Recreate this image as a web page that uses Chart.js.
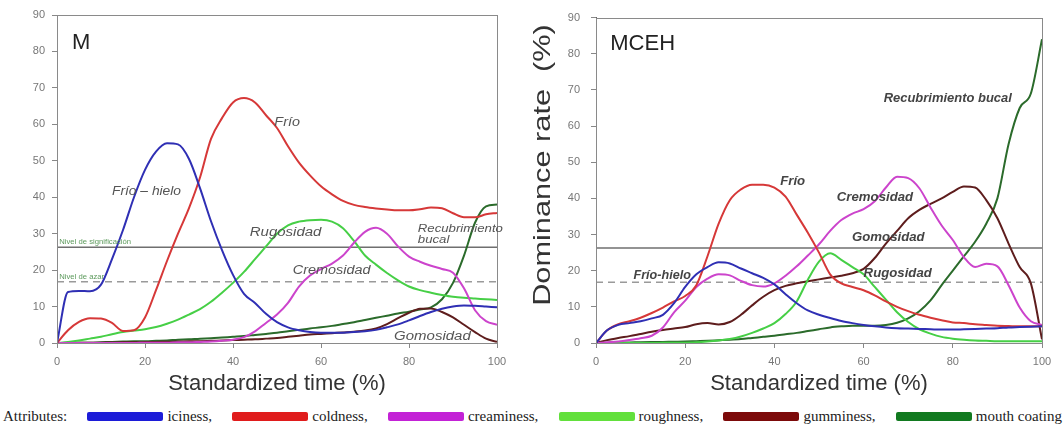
<!DOCTYPE html>
<html>
<head>
<meta charset="utf-8">
<title>Dominance rate | M vs MCEH</title>
<script src="https://cdn.jsdelivr.net/npm/chart.js@4.4.1/dist/chart.umd.min.js"></script>
<style>
  html, body { margin: 0; padding: 0; background: #fff; }
  #wrap { position: relative; width: 1064px; height: 430px; overflow: hidden; }
  #chartM { position: absolute; left: 0; top: 0; }
  #chartMCEH { position: absolute; left: 530px; top: 0; }
  #legend {
    position: absolute; left: 3px; top: 405px; width: 1059px; height: 22px;
    display: flex; align-items: center; justify-content: space-between;
    font: 15px 'Liberation Serif', 'Times New Roman', serif; color: #222; white-space: nowrap;
  }
  .lg-item { display: flex; align-items: center; }
  .lg-bar { width: 76px; height: 9px; margin-right: 4px; border-radius: 2px; }
</style>
</head>
<body>
<div id="wrap">
  <canvas id="chartM" width="530" height="400"></canvas>
  <canvas id="chartMCEH" width="534" height="400"></canvas>
  <div id="legend"></div>
</div>
<script>
/* ── Data ───────────────────────────────────────────────────── */
var X_GRID = [0, 2.5, 5, 7.5, 10, 12.5, 15, 17.5, 20, 22.5, 25, 27.5, 30, 32.5, 35, 37.5, 40,
  42.5, 45, 47.5, 50, 52.5, 55, 57.5, 60, 62.5, 65, 67.5, 70, 72.5, 75, 77.5, 80, 82.5, 85,
  87.5, 90, 92.5, 95, 97.5, 100];
var X_TICKS = [0, 20, 40, 60, 80, 100];
var Y_TICKS = [0, 10, 20, 30, 40, 50, 60, 70, 80, 90];
var X_TITLE = 'Standardized time (%)';
var Y_TITLE = 'Dominance rate  (%)';

var ATTRIBUTES = ['iciness,', 'coldness,', 'creaminess,', 'roughness,', 'gumminess,', 'mouth coating'];

var SIGNIFICANCE_LEVEL = 26.3;
var CHANCE_LEVEL = 16.8;

/* panel M */
var M_ICINESS = [0, 14, 14.3, 14.2, 16, 23, 31, 40, 47.5, 52.5, 54.8, 54.5, 50.5, 42.5, 33.4, 25.5, 18.7,
  13.5, 11, 8, 5.7, 4.3, 3.5, 3, 2.8, 2.8, 2.8, 3, 3.2, 3.6, 4.3, 5.1, 6.2, 7.4, 8.5, 9.4, 10, 10.3, 10.2, 10, 9.8];
var M_COLDNESS = [0, 3.5, 5.8, 6.8, 6.7, 5.5, 3.3, 3.5, 7, 14.5, 22.5, 30, 37, 45.4, 56, 61.7, 66,
  67.2, 66, 62.5, 59, 54, 49.5, 46, 43, 40.8, 39, 37.9, 37.3, 36.9, 36.6, 36.4, 36.4, 36.7, 37.2, 37, 35.6, 34.5, 34.5, 35.3, 35.7];
var M_CREAMINESS = [0, 0, 0, 0, 0, 0, 0, 0, 0.1, 0.1, 0.1, 0.2, 0.2, 0.3, 0.4, 0.6, 0.9,
  1.6, 3.2, 5.5, 7.8, 11, 15.5, 18.5, 20.3, 21.8, 24, 27.5, 30.5, 31.6, 30, 26.5, 23.7, 22.3, 21.2, 20.3, 19.3, 15, 9, 6, 5];
var M_ROUGHNESS = [0, 0.3, 0.7, 1.2, 1.7, 2.4, 3, 3.4, 3.8, 4.4, 5.3, 6.4, 7.8, 9.3, 11.3, 13.8, 16.5,
  19.5, 23, 26.5, 30, 32.3, 33.3, 33.7, 33.8, 33.3, 31.5, 28, 24, 21.5, 19.2, 17.2, 15.5, 14.5, 13.8, 13.2, 12.7, 12.4, 12.2, 12, 11.8];
var M_GUMMINESS = [0, 0, 0.05, 0.1, 0.1, 0.15, 0.2, 0.2, 0.25, 0.3, 0.35, 0.4, 0.45, 0.5, 0.6, 0.7, 0.8,
  0.9, 1, 1.2, 1.4, 1.7, 2, 2.3, 2.5, 2.7, 2.9, 3.1, 3.4, 4, 5.2, 6.8, 8.3, 9.4, 9.5, 8.5, 7, 5, 3, 1.2, 0.3];
var M_MOUTH_COATING = [0, 0, 0.1, 0.1, 0.2, 0.3, 0.4, 0.5, 0.5, 0.6, 0.7, 0.9, 1, 1.2, 1.3, 1.5, 1.7,
  1.9, 2.2, 2.5, 2.8, 3.2, 3.6, 4, 4.3, 4.7, 5.2, 5.7, 6.3, 6.9, 7.5, 8.1, 8.6, 9.2, 9.8, 12, 16.5, 24, 33, 37.5, 38];

/* panel MCEH */
var MCEH_ICINESS = [0, 3.5, 5, 5.5, 6, 6.8, 7.8, 11, 15.5, 19, 21, 22.3, 22, 20.6, 19.3, 18, 16.2,
  13.5, 11, 9, 7.8, 6.9, 6.1, 5.5, 5, 4.6, 4.3, 4.1, 4, 3.9, 3.8, 3.7, 3.7, 3.8, 3.9, 4, 4.1, 4.3, 4.4, 4.5, 4.6];
var MCEH_COLDNESS = [0, 3.5, 5.2, 6, 7, 8.3, 9.8, 11.5, 13, 16, 24, 33, 39.5, 42.5, 43.8, 43.8, 43,
  40.5, 35.5, 30.5, 25, 19, 16.5, 15.5, 14.6, 13.2, 11.5, 10, 8.8, 7.8, 7, 6.3, 5.7, 5.5, 5.2, 5, 4.8, 4.7, 4.6, 4.6, 4.6];
var MCEH_CREAMINESS = [0, 0.2, 0.4, 0.8, 1.3, 2, 4.3, 8.5, 11.7, 15.5, 17.8, 19, 18.7, 17.2, 16, 15.6, 16.5,
  18.6, 21.2, 24.2, 27.3, 31, 34, 35.8, 37, 39.2, 43, 46, 45.6, 42.8, 37.5, 32.5, 28.5, 23.7, 21, 21.9, 21.2, 16, 9.8, 6, 5];
var MCEH_ROUGHNESS = [0, 0, 0, 0, 0, 0, 0.05, 0.1, 0.1, 0.2, 0.4, 0.7, 1.1, 1.8, 2.8, 4, 5.5,
  8, 11.5, 17.5, 22.5, 24.8, 23, 21, 19, 15.5, 12, 8.5, 5.8, 3.8, 2.6, 1.7, 1.2, 0.9, 0.7, 0.6, 0.5, 0.5, 0.5, 0.5, 0.5];
var MCEH_GUMMINESS = [0, 0.8, 1.4, 1.9, 2.5, 3.1, 3.6, 4, 4.4, 5.2, 5.5, 5.1, 5.8, 7.8, 10.4, 12.8, 14.6,
  15.8, 16.5, 17.1, 17.6, 18.1, 18.6, 19.3, 20.5, 23.5, 27.5, 31, 34.5, 36.8, 38.5, 40, 41.8, 43.3, 43, 39.5, 34.5, 27.5, 21, 16.5, 1];
var MCEH_MOUTH_COATING = [0, 0.05, 0.1, 0.15, 0.2, 0.25, 0.3, 0.35, 0.4, 0.5, 0.6, 0.75, 0.9, 1.1, 1.4, 1.7, 2,
  2.4, 2.8, 3.3, 3.8, 4.3, 4.6, 4.8, 4.8, 4.8, 5, 5.6, 6.8, 8.8, 11.8, 16, 20, 24, 28, 33, 40, 55, 65, 69, 84];

(function () {
  'use strict';

  var LINE_COLORS = ['#2f2fb4', '#d63838', '#cc44cc', '#46cf46', '#5e1d1d', '#2b6b2b'];
  var BAR_COLORS = ['#1c1cd8', '#e01c1c', '#c322d6', '#62e03c', '#7c0a0a', '#127a20'];

  /* ── Plugins ─────────────────────────────────────────────── */
  var framePlugin = {
    id: 'frame',
    afterDatasetsDraw: function (chart) {
      var a = chart.chartArea, ctx = chart.ctx;
      ctx.save();
      ctx.strokeStyle = '#8a8a8a';
      ctx.lineWidth = 1;
      ctx.strokeRect(Math.round(a.left) + 0.5, Math.round(a.top) + 0.5,
        Math.round(a.right - a.left), Math.round(a.bottom - a.top));
      ctx.restore();
    }
  };

  var notesPlugin = {
    id: 'notes',
    afterDatasetsDraw: function (chart, args, opts) {
      var ctx = chart.ctx, xs = chart.scales.x, ys = chart.scales.y;
      (opts.items || []).forEach(function (n) {
        ctx.save();
        ctx.font = n.font;
        ctx.fillStyle = n.color;
        ctx.textBaseline = 'middle';
        ctx.textAlign = 'left';
        ctx.translate(xs.getPixelForValue(n.x), ys.getPixelForValue(n.y));
        ctx.scale(n.stretch || 1, 1);
        ctx.fillText(n.text, 0, 0);
        ctx.restore();
      });
    }
  };

  var yTitlePlugin = {
    id: 'yTitle',
    afterDraw: function (chart, args, opts) {
      if (!opts.text) return;
      var ctx = chart.ctx;
      ctx.save();
      ctx.font = opts.font;
      ctx.fillStyle = opts.color;
      ctx.textAlign = 'center';
      ctx.textBaseline = 'middle';
      ctx.translate(opts.x, opts.y);
      ctx.rotate(-Math.PI / 2);
      ctx.scale(opts.stretch || 1, 1);
      ctx.fillText(opts.text, 0, 0);
      ctx.restore();
    }
  };

  /* ── Helpers ─────────────────────────────────────────────── */
  function points(vals) {
    return X_GRID.map(function (x, i) { return { x: x, y: vals[i] }; });
  }

  function levelLine(y, color, dash) {
    return {
      label: 'level',
      data: [{ x: X_TICKS[0], y: y }, { x: X_TICKS[X_TICKS.length - 1], y: y }],
      borderColor: color,
      borderWidth: 1.5,
      borderDash: dash,
      pointRadius: 0,
      fill: false
    };
  }

  function buildDatasets(series) {
    var sets = series.map(function (vals, i) {
      return {
        label: ATTRIBUTES[i],
        data: points(vals),
        borderColor: LINE_COLORS[i],
        borderWidth: 2,
        pointRadius: 0,
        fill: false,
        cubicInterpolationMode: 'monotone'
      };
    });
    sets.push(levelLine(SIGNIFICANCE_LEVEL, '#6f6f6f', []));
    sets.push(levelLine(CHANCE_LEVEL, '#9a9a9a', [7, 5]));
    return sets;
  }

  function scales(yWidth, yPad) {
    return {
      x: {
        type: 'linear', min: 0, max: 100,
        afterBuildTicks: function (s) { s.ticks = X_TICKS.map(function (v) { return { value: v }; }); },
        afterFit: function (s) { s.height = 57; },
        ticks: { color: '#777', font: { size: 11, family: 'Arial' }, padding: 7, maxRotation: 0 },
        grid: { drawOnChartArea: false, tickLength: 5, color: '#888' },
        border: { color: '#666' },
        title: {
          display: true, text: X_TITLE, color: '#333',
          font: { size: 22, family: "'Liberation Sans', Arial" }, padding: { top: 0, bottom: 3 }
        }
      },
      y: {
        min: 0, max: 90,
        afterBuildTicks: function (s) { s.ticks = Y_TICKS.map(function (v) { return { value: v }; }); },
        afterFit: function (s) { s.width = yWidth; },
        ticks: { color: '#777', font: { size: 11, family: 'Arial' }, padding: yPad },
        grid: { drawOnChartArea: false, tickLength: 5, color: '#888' },
        border: { color: '#666' }
      }
    };
  }

  function makeChart(id, series, padRight, yWidth, yPad, notes, yTitle) {
    return new Chart(document.getElementById(id), {
      type: 'line',
      data: { datasets: buildDatasets(series) },
      options: {
        responsive: false,
        animation: false,
        devicePixelRatio: 1,
        layout: { padding: { top: 15, right: padRight, left: 0, bottom: 0 } },
        scales: scales(yWidth, yPad),
        plugins: {
          legend: { display: false },
          tooltip: { enabled: false },
          notes: { items: notes },
          yTitle: yTitle || {}
        }
      },
      plugins: [framePlugin, notesPlugin, yTitlePlugin]
    });
  }

  /* ── Text labels inside the plots ────────────────────────── */
  var L_FONT = 'italic 12px Arial';
  var L_COL = '#555';
  var notesM = [
    { text: 'M', x: 3.4, y: 82.4, font: '22px Arial', color: '#222' },
    { text: 'Frío', x: 49.4, y: 60.4, font: L_FONT, color: L_COL, stretch: 1.2 },
    { text: 'Frío – hielo', x: 12.5, y: 41.5, font: L_FONT, color: L_COL, stretch: 1.15 },
    { text: 'Rugosidad', x: 43.8, y: 30.2, font: L_FONT, color: L_COL, stretch: 1.25 },
    { text: 'Cremosidad', x: 53.6, y: 19.9, font: L_FONT, color: L_COL, stretch: 1.2 },
    { text: 'Recubrimiento', x: 82, y: 31.3, font: 'italic 11px Arial', color: L_COL, stretch: 1.2 },
    { text: 'bucal', x: 82, y: 28.3, font: 'italic 11px Arial', color: L_COL, stretch: 1.2 },
    { text: 'Gomosidad', x: 76.6, y: 1.8, font: L_FONT, color: L_COL, stretch: 1.25 },
    { text: 'Nivel de significación', x: 0.5, y: 27.7, font: '7px Arial', color: '#5c9a5c', stretch: 1.1 },
    { text: 'Nivel de azar', x: 0.5, y: 18.2, font: '7px Arial', color: '#5c9a5c', stretch: 1.1 }
  ];

  var R_FONT = 'italic bold 12px Arial';
  var R_COL = '#444';
  var notesMCEH = [
    { text: 'MCEH', x: 3.2, y: 82.6, font: '22px Arial', color: '#222' },
    { text: 'Recubrimiento bucal', x: 64.5, y: 67.5, font: R_FONT, color: R_COL, stretch: 1.08 },
    { text: 'Frío', x: 41.3, y: 44.5, font: R_FONT, color: R_COL, stretch: 1.1 },
    { text: 'Cremosidad', x: 54, y: 40.2, font: R_FONT, color: R_COL, stretch: 1.1 },
    { text: 'Gomosidad', x: 57.4, y: 29.2, font: R_FONT, color: R_COL, stretch: 1.1 },
    { text: 'Rugosidad', x: 60, y: 19.2, font: R_FONT, color: R_COL, stretch: 1.1 },
    { text: 'Frío-hielo', x: 8.4, y: 18.7, font: R_FONT, color: R_COL, stretch: 1.05 }
  ];

  /* ── Build ───────────────────────────────────────────────── */
  makeChart('chartM',
    [M_ICINESS, M_COLDNESS, M_CREAMINESS, M_ROUGHNESS, M_GUMMINESS, M_MOUTH_COATING],
    33, 57, 7, notesM, null);

  makeChart('chartMCEH',
    [MCEH_ICINESS, MCEH_COLDNESS, MCEH_CREAMINESS, MCEH_ROUGHNESS, MCEH_GUMMINESS, MCEH_MOUTH_COATING],
    22, 66, 11, notesMCEH,
    { text: Y_TITLE, x: 13, y: 165, font: "24px 'Liberation Sans', Arial", color: '#333', stretch: 1.28 });

  /* ── Legend row ──────────────────────────────────────────── */
  var legend = document.getElementById('legend');
  legend.innerHTML = '<span class="lg-item">Attributes:</span>' + ATTRIBUTES.map(function (name, i) {
    return '<span class="lg-item"><span class="lg-bar" style="background:' + BAR_COLORS[i] + '"></span>' + name + '</span>';
  }).join('');
})();
</script>
</body>
</html>
